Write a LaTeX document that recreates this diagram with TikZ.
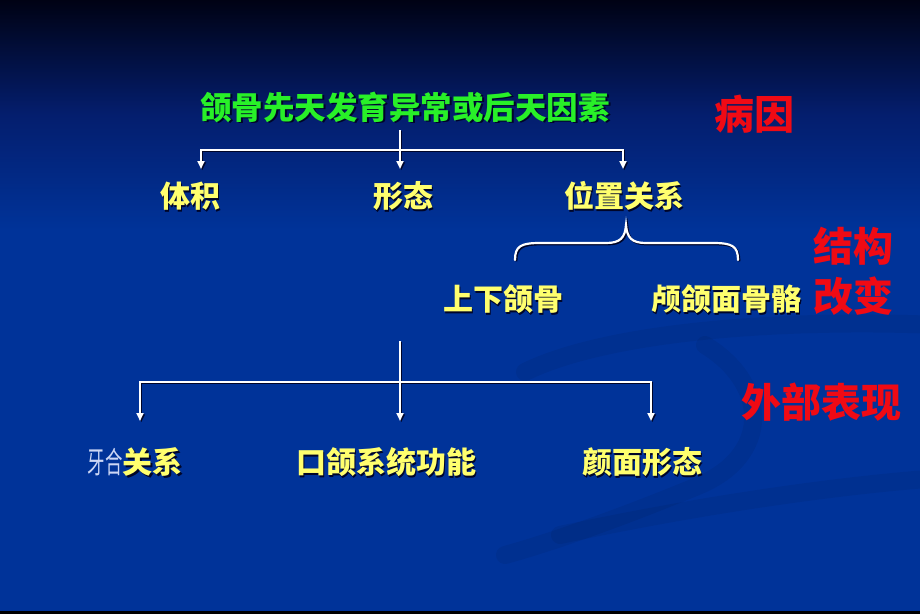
\documentclass[tikz,border=0pt]{standalone}
\usepackage{fontspec}
\newfontfamily\cjk{Noto Sans CJK SC}
\usetikzlibrary{arrows.meta}
\definecolor{bgtop}{RGB}{0,2,20}
\definecolor{bgmid}{RGB}{4,30,110}
\definecolor{bgblue}{RGB}{0,51,153}
\definecolor{baseline}{RGB}{110,155,255}
\definecolor{greentxt}{RGB}{40,240,40}
\definecolor{yellowtxt}{RGB}{255,255,110}
\definecolor{redtxt}{RGB}{240,10,20}
\definecolor{shadowc}{RGB}{0,5,40}
\definecolor{yahec}{RGB}{205,215,245}
\newcommand\shd[1]{\leavevmode\rlap{\kern1.8pt\raisebox{-1.8pt}{\color{shadowc}#1}}#1}

\begin{document}
\begin{tikzpicture}[x=1pt, y=-1pt,
    every node/.style = {inner sep=0pt, font=\cjk\bfseries\fontsize{30}{30}\selectfont},
    cause/.style = {text=greentxt, font=\cjk\bfseries\fontsize{31.5}{32}\selectfont},
    item/.style = {text=yellowtxt},
    side/.style = {text=redtxt, align=center, font=\cjk\bfseries\fontsize{40}{50}\selectfont},
    wire/.style = {draw=white, line width=2.2pt,
                   preaction={draw=shadowc, line width=2.2pt, transform canvas={shift={(1.3pt,-1.3pt)}}}},
    arrow/.style = {wire, -{Triangle[length=8pt,width=7pt]}},
    swoosh/.style = {line width=18pt, line cap=round, draw=black, opacity=0.06}]
   % background
   \useasboundingbox (0,0) rectangle (920,614);
   \clip (0,0) rectangle (920,614);
   \fill[bgblue] (0,0) rectangle (920,614);
   \shade[top color=bgtop, bottom color=bgblue, middle color=bgmid] (0,0) rectangle (920,230);
   \draw[swoosh] (525,372) .. controls (600,335) and (760,318) .. (940,325);
   \draw[swoosh] (705,345) .. controls (770,385) and (770,455) .. (700,485) .. controls (640,510) and (560,540) .. (505,555);
   \draw[swoosh] (560,535) .. controls (700,505) and (840,485) .. (940,478);
   \fill[baseline] (0,611) rectangle (920,614);

   \node[cause] (origin) at (405,108) {\shd{颌骨先天发育异常或后天因素}};
   \node[side] (bingyin) at (754,114) {病因};
   \node[item] (tiji) at (190,197) {\shd{体积}};
   \node[item] (xingtai) at (403,197) {\shd{形态}};
   \node[item] (weizhi) at (624,197) {\shd{位置关系}};
   \node[item] (shangxia) at (503,300) {\shd{上下颌骨}};
   \node[item] (luhe) at (726,300) {\shd{颅颌面骨骼}};
   \node[side] (jiegou) at (853,271) {结构\\改变};
   \node[side] (waibu) at (821,402) {外部表现};
   \node[item] (yahe) at (135,463) {{\mdseries\color{yahec}\scalebox{0.58}[1]{牙合}}\shd{关系}};
   \node[item] (kouhe) at (386,463) {\shd{口颌系统功能}};
   \node[item] (yanmian) at (642,463) {\shd{颜面形态}};

   \coordinate (topstart) at (400,130);
   \coordinate (topbus) at (400,150);
   \coordinate (tip1) at (201,169);
   \coordinate (tip2) at (400,169);
   \coordinate (tip3) at (623,169);
   \coordinate (lowstart) at (400,341);
   \coordinate (lowbus) at (400,382);
   \coordinate (tip4) at (140,421);
   \coordinate (tip5) at (400,421);
   \coordinate (tip6) at (651,421);

   \draw[wire] (topstart) -- (topbus);
   \draw[arrow] (topbus) -| (tip1);
   \draw[arrow] (topbus) -- (tip2);
   \draw[arrow] (topbus) -| (tip3);

   % brace under the position item
   \draw[wire, line cap=round] (515,260) .. controls (515,246) and (521,243) .. (540,243) -- (606,243)
      .. controls (620,243) and (625,238) .. (626,225)
      .. controls (627,238) and (632,243) .. (646,243) -- (713,243)
      .. controls (732,243) and (738,246) .. (738,260);

   \draw[wire] (lowstart) -- (lowbus);
   \draw[arrow] (lowbus) -| (tip4);
   \draw[arrow] (lowbus) -- (tip5);
   \draw[arrow] (lowbus) -| (tip6);
\end{tikzpicture}
\end{document}
